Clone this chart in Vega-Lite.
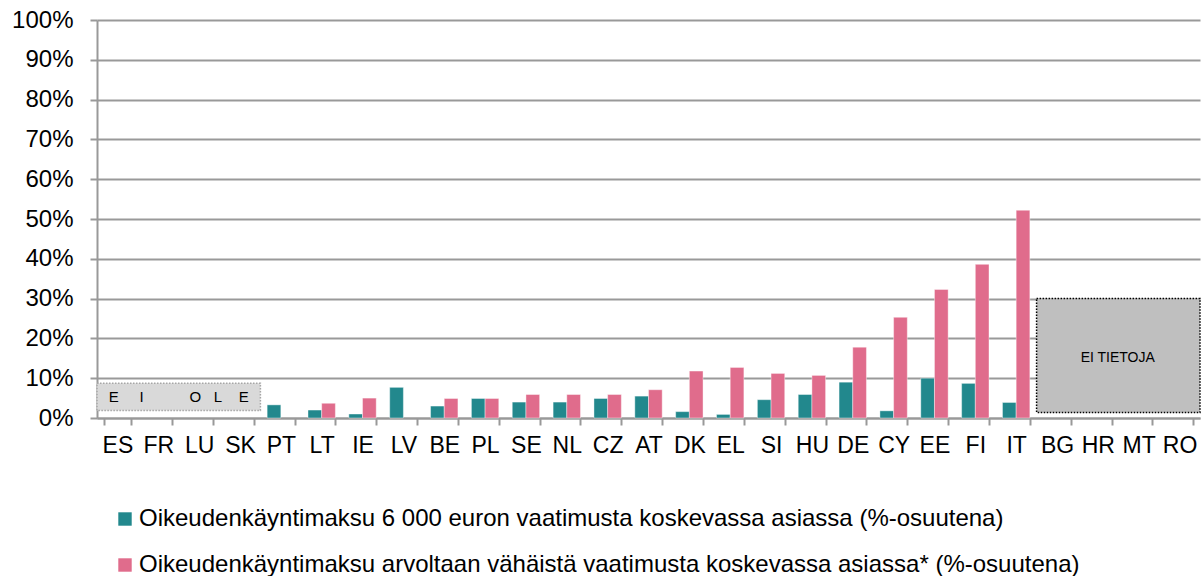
{
  "$schema": "https://vega.github.io/schema/vega-lite/v6.json",
  "width": 1103,
  "height": 398,
  "autosize": {"type": "none"},
  "padding": {"left": 97, "top": 20, "right": 1, "bottom": 158},
  "config": {
    "font": "Liberation Sans",
    "view": {"stroke": null},
    "axis": {
      "labelFont": "Liberation Sans",
      "labelColor": "#000000",
      "domainColor": "#999999",
      "domainWidth": 2,
      "tickColor": "#999999",
      "tickWidth": 2,
      "gridColor": "#999999",
      "gridWidth": 2
    }
  },
  "datasets": {
    "bars": [
      {"country": "PT", "Oikeudenkäyntimaksu 6 000 euron vaatimusta koskevassa asiassa (%-osuutena)": 3.3},
      {"country": "LT", "Oikeudenkäyntimaksu 6 000 euron vaatimusta koskevassa asiassa (%-osuutena)": 2.0, "Oikeudenkäyntimaksu arvoltaan vähäistä vaatimusta koskevassa asiassa* (%-osuutena)": 3.7},
      {"country": "IE", "Oikeudenkäyntimaksu 6 000 euron vaatimusta koskevassa asiassa (%-osuutena)": 1.0, "Oikeudenkäyntimaksu arvoltaan vähäistä vaatimusta koskevassa asiassa* (%-osuutena)": 5.0},
      {"country": "LV", "Oikeudenkäyntimaksu 6 000 euron vaatimusta koskevassa asiassa (%-osuutena)": 7.7},
      {"country": "BE", "Oikeudenkäyntimaksu 6 000 euron vaatimusta koskevassa asiassa (%-osuutena)": 3.0, "Oikeudenkäyntimaksu arvoltaan vähäistä vaatimusta koskevassa asiassa* (%-osuutena)": 4.9},
      {"country": "PL", "Oikeudenkäyntimaksu 6 000 euron vaatimusta koskevassa asiassa (%-osuutena)": 4.9, "Oikeudenkäyntimaksu arvoltaan vähäistä vaatimusta koskevassa asiassa* (%-osuutena)": 4.9},
      {"country": "SE", "Oikeudenkäyntimaksu 6 000 euron vaatimusta koskevassa asiassa (%-osuutena)": 4.0, "Oikeudenkäyntimaksu arvoltaan vähäistä vaatimusta koskevassa asiassa* (%-osuutena)": 5.9},
      {"country": "NL", "Oikeudenkäyntimaksu 6 000 euron vaatimusta koskevassa asiassa (%-osuutena)": 4.0, "Oikeudenkäyntimaksu arvoltaan vähäistä vaatimusta koskevassa asiassa* (%-osuutena)": 5.9},
      {"country": "CZ", "Oikeudenkäyntimaksu 6 000 euron vaatimusta koskevassa asiassa (%-osuutena)": 4.9, "Oikeudenkäyntimaksu arvoltaan vähäistä vaatimusta koskevassa asiassa* (%-osuutena)": 5.9},
      {"country": "AT", "Oikeudenkäyntimaksu 6 000 euron vaatimusta koskevassa asiassa (%-osuutena)": 5.5, "Oikeudenkäyntimaksu arvoltaan vähäistä vaatimusta koskevassa asiassa* (%-osuutena)": 7.1},
      {"country": "DK", "Oikeudenkäyntimaksu 6 000 euron vaatimusta koskevassa asiassa (%-osuutena)": 1.6, "Oikeudenkäyntimaksu arvoltaan vähäistä vaatimusta koskevassa asiassa* (%-osuutena)": 11.8},
      {"country": "EL", "Oikeudenkäyntimaksu 6 000 euron vaatimusta koskevassa asiassa (%-osuutena)": 0.9, "Oikeudenkäyntimaksu arvoltaan vähäistä vaatimusta koskevassa asiassa* (%-osuutena)": 12.7},
      {"country": "SI", "Oikeudenkäyntimaksu 6 000 euron vaatimusta koskevassa asiassa (%-osuutena)": 4.6, "Oikeudenkäyntimaksu arvoltaan vähäistä vaatimusta koskevassa asiassa* (%-osuutena)": 11.2},
      {"country": "HU", "Oikeudenkäyntimaksu 6 000 euron vaatimusta koskevassa asiassa (%-osuutena)": 5.9, "Oikeudenkäyntimaksu arvoltaan vähäistä vaatimusta koskevassa asiassa* (%-osuutena)": 10.7},
      {"country": "DE", "Oikeudenkäyntimaksu 6 000 euron vaatimusta koskevassa asiassa (%-osuutena)": 9.0, "Oikeudenkäyntimaksu arvoltaan vähäistä vaatimusta koskevassa asiassa* (%-osuutena)": 17.8},
      {"country": "CY", "Oikeudenkäyntimaksu 6 000 euron vaatimusta koskevassa asiassa (%-osuutena)": 1.8, "Oikeudenkäyntimaksu arvoltaan vähäistä vaatimusta koskevassa asiassa* (%-osuutena)": 25.3},
      {"country": "EE", "Oikeudenkäyntimaksu 6 000 euron vaatimusta koskevassa asiassa (%-osuutena)": 10.0, "Oikeudenkäyntimaksu arvoltaan vähäistä vaatimusta koskevassa asiassa* (%-osuutena)": 32.3},
      {"country": "FI", "Oikeudenkäyntimaksu 6 000 euron vaatimusta koskevassa asiassa (%-osuutena)": 8.7, "Oikeudenkäyntimaksu arvoltaan vähäistä vaatimusta koskevassa asiassa* (%-osuutena)": 38.6},
      {"country": "IT", "Oikeudenkäyntimaksu 6 000 euron vaatimusta koskevassa asiassa (%-osuutena)": 3.9, "Oikeudenkäyntimaksu arvoltaan vähäistä vaatimusta koskevassa asiassa* (%-osuutena)": 52.2}
    ],
    "boxes": [
      {"label": "EI OLE", "text": "E\u00a0\u00a0\u00a0\u00a0\u00a0I\u00a0\u00a0\u00a0\u00a0\u00a0\u00a0\u00a0\u00a0\u00a0\u00a0\u00a0O\u00a0\u00a0\u00a0L\u00a0\u00a0\u00a0\u00a0E", "start": "ES", "end": "SK", "mid": "LU", "low": 1.9, "high": 8.7, "textY": 5.3},
      {"label": "EI TIETOJA", "text": "EI TIETOJA", "start": "BG", "end": "RO", "mid": "MT", "low": 1.4, "high": 30, "textY": 15.2}
    ]
  },
  "layer": [
    {
      "data": {"name": "bars"},
      "transform": [
        {"fold": ["Oikeudenkäyntimaksu 6 000 euron vaatimusta koskevassa asiassa (%-osuutena)", "Oikeudenkäyntimaksu arvoltaan vähäistä vaatimusta koskevassa asiassa* (%-osuutena)"], "as": ["series", "value"]},
        {"filter": "isValid(datum.value)"}
      ],
      "mark": {"type": "bar", "stroke": "#ffffff", "strokeOpacity": 0.4, "strokeWidth": 1},
      "encoding": {
        "x": {
          "field": "country", "type": "nominal", "sort": null,
          "scale": {"domain": ["ES","FR","LU","SK","PT","LT","IE","LV","BE","PL","SE","NL","CZ","AT","DK","EL","SI","HU","DE","CY","EE","FI","IT","BG","HR","MT","RO"], "paddingInner": 0.33, "paddingOuter": 0.165},
          "axis": {"title": null, "tickBand": "extent", "tickSize": 7, "labelPadding": 9, "labelFontSize": 23, "labelAngle": 0, "grid": false}
        },
        "xOffset": {"field": "series", "type": "nominal", "scale": {"domain": ["Oikeudenkäyntimaksu 6 000 euron vaatimusta koskevassa asiassa (%-osuutena)", "Oikeudenkäyntimaksu arvoltaan vähäistä vaatimusta koskevassa asiassa* (%-osuutena)"]}},
        "y": {
          "field": "value", "type": "quantitative",
          "scale": {"domain": [0, 100], "nice": false},
          "axis": {"title": null, "values": [0,10,20,30,40,50,60,70,80,90,100], "labelExpr": "datum.value + '%'", "tickSize": 7, "labelPadding": 17, "labelFontSize": 24, "grid": true}
        },
        "color": {
          "field": "series", "type": "nominal",
          "scale": {"domain": ["Oikeudenkäyntimaksu 6 000 euron vaatimusta koskevassa asiassa (%-osuutena)", "Oikeudenkäyntimaksu arvoltaan vähäistä vaatimusta koskevassa asiassa* (%-osuutena)"], "range": ["#22888D", "#E06C8C"]},
          "legend": {"title": null, "orient": "none", "legendX": 16, "legendY": 487, "direction": "vertical", "symbolType": "square", "symbolSize": 180, "symbolStrokeWidth": 0, "labelFontSize": 24, "labelFont": "Liberation Sans", "labelColor": "#000000", "rowPadding": 22, "labelOffset": 2, "labelLimit": 0}
        }
      }
    },
    {
      "data": {"name": "boxes"},
      "transform": [{"filter": "datum.label == 'EI OLE'"}],
      "mark": {"type": "rect", "fill": "#D9D9D9", "stroke": "#A6A6A6", "strokeWidth": 1.5, "strokeDash": [1.5, 1.5]},
      "encoding": {
        "x": {"field": "start", "type": "nominal", "bandPosition": 0, "scale": {"domain": ["ES","FR","LU","SK","PT","LT","IE","LV","BE","PL","SE","NL","CZ","AT","DK","EL","SI","HU","DE","CY","EE","FI","IT","BG","HR","MT","RO"], "paddingInner": 0, "paddingOuter": 0}, "axis": null},
        "x2": {"field": "end", "bandPosition": 1},
        "y": {"field": "low", "type": "quantitative", "scale": {"domain": [0, 100], "nice": false}, "axis": {"title": null, "values": [0,10,20,30,40,50,60,70,80,90,100], "labelExpr": "datum.value + '%'", "tickSize": 7, "labelPadding": 17, "labelFontSize": 24, "grid": true}},
        "y2": {"field": "high"}
      }
    },
    {
      "data": {"name": "boxes"},
      "transform": [{"filter": "datum.label == 'EI TIETOJA'"}],
      "mark": {"type": "rect", "fill": "#BFBFBF", "stroke": "#000000", "strokeWidth": 1.5, "strokeDash": [1.5, 1.5]},
      "encoding": {
        "x": {"field": "start", "type": "nominal", "bandPosition": 0, "scale": {"domain": ["ES","FR","LU","SK","PT","LT","IE","LV","BE","PL","SE","NL","CZ","AT","DK","EL","SI","HU","DE","CY","EE","FI","IT","BG","HR","MT","RO"], "paddingInner": 0, "paddingOuter": 0}, "axis": null},
        "x2": {"field": "end", "bandPosition": 1},
        "y": {"field": "low", "type": "quantitative", "scale": {"domain": [0, 100], "nice": false}, "axis": {"title": null, "values": [0,10,20,30,40,50,60,70,80,90,100], "labelExpr": "datum.value + '%'", "tickSize": 7, "labelPadding": 17, "labelFontSize": 24, "grid": true}},
        "y2": {"field": "high"}
      }
    },
    {
      "data": {"name": "boxes"},
      "transform": [{"filter": "datum.label == 'EI OLE'"}],
      "mark": {"type": "text", "fontSize": 15, "font": "Liberation Sans", "color": "#000000", "align": "center", "baseline": "middle", "dx": -20.4},
      "encoding": {
        "x": {"field": "mid", "type": "nominal", "scale": {"domain": ["ES","FR","LU","SK","PT","LT","IE","LV","BE","PL","SE","NL","CZ","AT","DK","EL","SI","HU","DE","CY","EE","FI","IT","BG","HR","MT","RO"], "paddingInner": 0, "paddingOuter": 0}, "axis": null},
        "y": {"field": "textY", "type": "quantitative", "scale": {"domain": [0, 100], "nice": false}, "axis": {"title": null, "values": [0,10,20,30,40,50,60,70,80,90,100], "labelExpr": "datum.value + '%'", "tickSize": 7, "labelPadding": 17, "labelFontSize": 24, "grid": true}},
        "text": {"field": "text"}
      }
    },
    {
      "data": {"name": "boxes"},
      "transform": [{"filter": "datum.label == 'EI TIETOJA'"}],
      "mark": {"type": "text", "fontSize": 14, "font": "Liberation Sans", "color": "#000000", "align": "center", "baseline": "middle", "dx": -21},
      "encoding": {
        "x": {"field": "mid", "type": "nominal", "scale": {"domain": ["ES","FR","LU","SK","PT","LT","IE","LV","BE","PL","SE","NL","CZ","AT","DK","EL","SI","HU","DE","CY","EE","FI","IT","BG","HR","MT","RO"], "paddingInner": 0, "paddingOuter": 0}, "axis": null},
        "y": {"field": "textY", "type": "quantitative", "scale": {"domain": [0, 100], "nice": false}, "axis": {"title": null, "values": [0,10,20,30,40,50,60,70,80,90,100], "labelExpr": "datum.value + '%'", "tickSize": 7, "labelPadding": 17, "labelFontSize": 24, "grid": true}},
        "text": {"field": "text"}
      }
    }
  ],
  "resolve": {"scale": {"x": "independent"}}
}
